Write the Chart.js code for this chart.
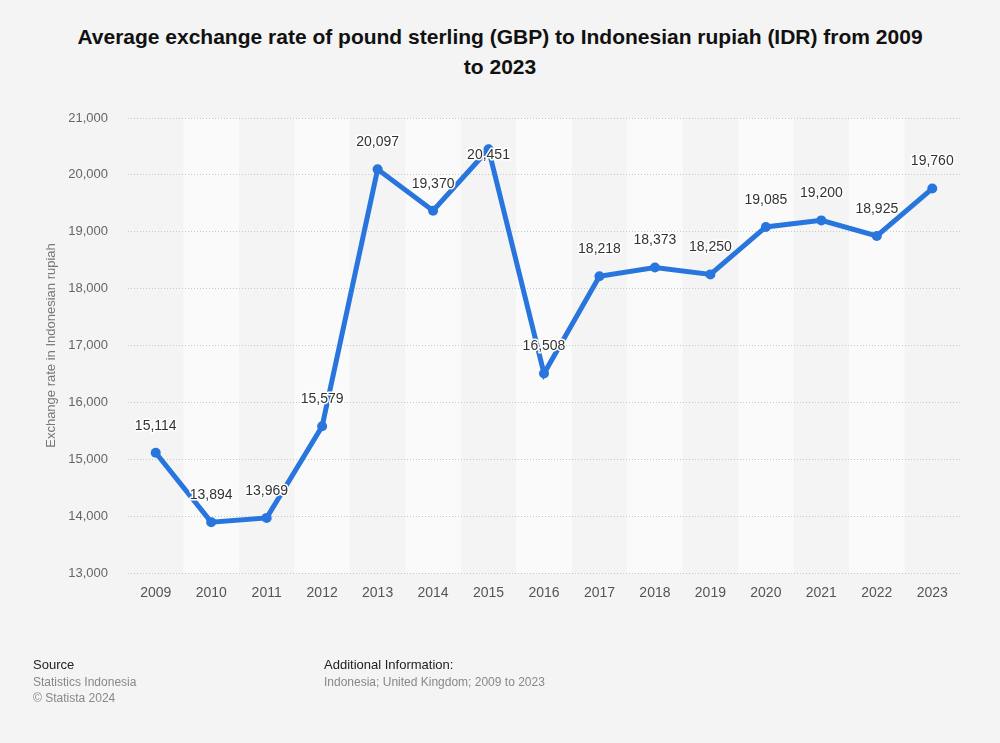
<!DOCTYPE html>
<html>
<head>
<meta charset="utf-8">
<script src="https://cdn.jsdelivr.net/npm/chart.js@4.4.1/dist/chart.umd.min.js"></script>
<style>
    html, body { margin: 0; padding: 0; background: #f4f4f4; }
    body { width: 1000px; height: 743px; position: relative; overflow: hidden; font-family: "Liberation Sans", Arial, sans-serif; }
    #title { position: absolute; top: 22px; left: 0; width: 1000px; text-align: center; font-weight: bold; font-size: 21px; line-height: 30px; color: #111; }
    #chart-wrap { position: absolute; left: 0; top: 0; width: 1000px; height: 743px; }
    .foot { position: absolute; top: 657px; font-size: 12px; line-height: 16.5px; color: #888; }
    .foot b { font-weight: normal; font-size: 13px; color: #222; }
</style>
</head>
<body>
<div id="title">Average exchange rate of pound sterling (GBP) to Indonesian rupiah (IDR) from 2009<br>to 2023</div>
<div id="chart-wrap"><canvas id="rateChart" width="1000" height="743"></canvas></div>
<div class="foot" style="left:33px"><b>Source</b><br>Statistics Indonesia<br>© Statista 2024</div>
<div class="foot" style="left:324px"><b>Additional Information:</b><br>Indonesia; United Kingdom; 2009 to 2023</div>

<script>
const years = ["2009", "2010", "2011", "2012", "2013", "2014", "2015", "2016", "2017", "2018", "2019", "2020", "2021", "2022", "2023"];
const rates = [15114, 13894, 13969, 15579, 20097, 19370, 20451, 16508, 18218, 18373, 18250, 19085, 19200, 18925, 19760];
const yTicks = [13000, 14000, 15000, 16000, 17000, 18000, 19000, 20000, 21000];

const lineColor = "#2876dd";

// светлые полосы за чётными колонками
const bandsPlugin = {
    id: "bands",
    beforeDraw(chart) {
        const {ctx, chartArea, scales} = chart;
        const x = scales.x;
        const half = (x.getPixelForValue(1) - x.getPixelForValue(0)) / 2;
        ctx.save();
        ctx.fillStyle = "#fafafa";
        years.forEach((y, i) => {
            if (i % 2 === 1) {
                const cx = x.getPixelForValue(i);
                ctx.fillRect(cx - half, chartArea.top, half * 2, chartArea.bottom - chartArea.top);
            }
        });
        ctx.restore();
    }
};

// подписи значений над точками
const labelsPlugin = {
    id: "valueLabels",
    afterDatasetsDraw(chart) {
        const {ctx, chartArea} = chart;
        const meta = chart.getDatasetMeta(0);
        ctx.save();
        ctx.font = "14px 'Liberation Sans', Arial, sans-serif";
        ctx.textAlign = "center";
        ctx.textBaseline = "middle";
        ctx.lineJoin = "round";
        meta.data.forEach((pt, i) => {
            const text = rates[i].toLocaleString("en-US");
            let y = pt.y - 27;
            if (y - 8 < chartArea.top) y = pt.y + 6;
            ctx.strokeStyle = "#ffffff";
            ctx.lineWidth = 3;
            ctx.strokeText(text, pt.x, y);
            ctx.fillStyle = "#333333";
            ctx.fillText(text, pt.x, y);
        });
        ctx.restore();
    }
};

const ctx = document.getElementById("rateChart").getContext("2d");
new Chart(ctx, {
    type: "line",
    data: {
        labels: years,
        datasets: [{
            data: rates,
            borderColor: lineColor,
            backgroundColor: lineColor,
            borderWidth: 5,
            pointRadius: 5,
            pointHoverRadius: 5,
            pointBackgroundColor: lineColor,
            pointBorderWidth: 0,
            tension: 0,
            fill: false
        }]
    },
    options: {
        responsive: false,
        animation: false,
        layout: {
            padding: {top: 118, right: 40, bottom: 0, left: 40}
        },
        plugins: {
            legend: {display: false},
            tooltip: {enabled: false}
        },
        scales: {
            x: {
                offset: true,
                grid: {display: false, drawTicks: false},
                border: {display: false},
                ticks: {
                    color: "#555",
                    font: {size: 14, family: "'Liberation Sans', Arial, sans-serif"},
                    padding: 12,
                    maxRotation: 0
                },
                afterFit(scale) { scale.height = 170; }
            },
            y: {
                min: 13000,
                max: 21000,
                afterBuildTicks(scale) {
                    scale.ticks = yTicks.map(v => ({value: v}));
                },
                grid: {
                    color: "#c8c8c8",
                    drawTicks: false,
                    lineWidth: 1
                },
                border: {display: false, dash: [1, 2]},
                ticks: {
                    color: "#666",
                    font: {size: 13, family: "'Liberation Sans', Arial, sans-serif"},
                    padding: 20,
                    callback: v => v.toLocaleString("en-US")
                },
                title: {
                    display: true,
                    text: "Exchange rate in Indonesian rupiah",
                    color: "#777",
                    font: {size: 13, family: "'Liberation Sans', Arial, sans-serif"},
                    padding: {top: 4, bottom: 0}
                },
                afterFit(scale) { scale.width = 88; }
            }
        }
    },
    plugins: [bandsPlugin, labelsPlugin]
});
</script>
</body>
</html>
